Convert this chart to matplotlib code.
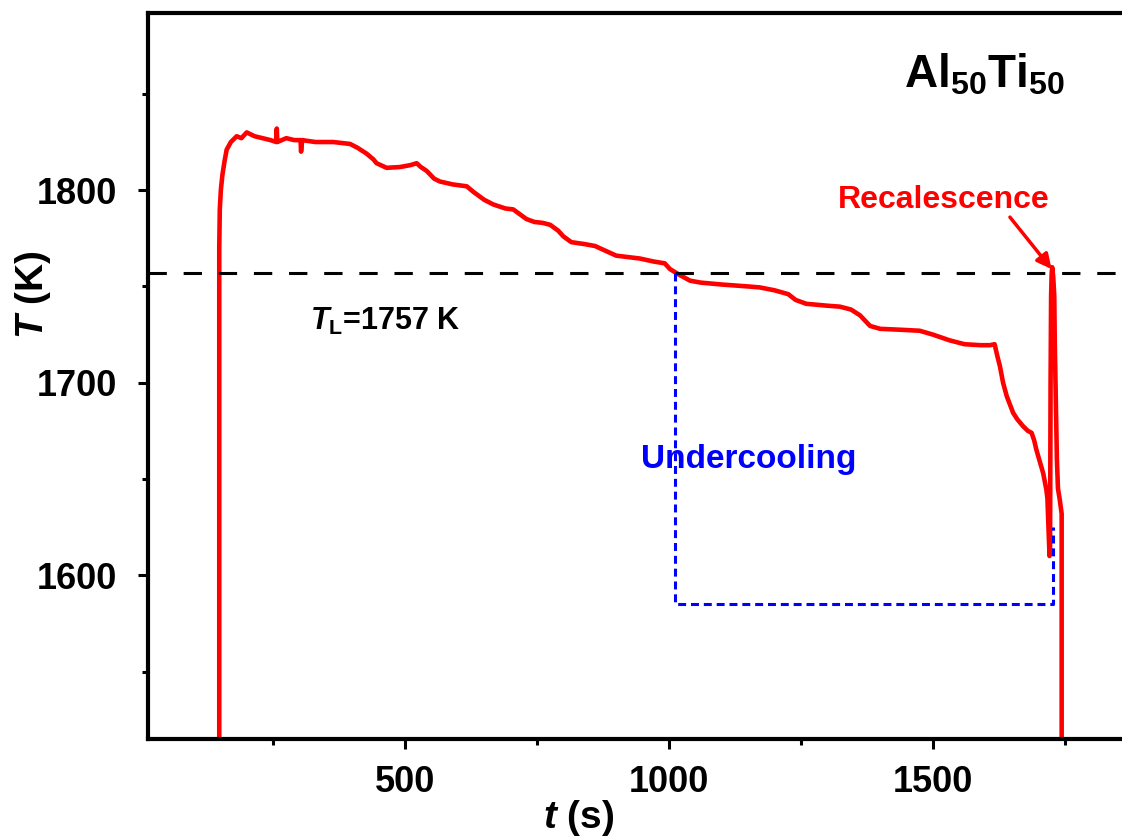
import matplotlib
matplotlib.use("Agg")
import matplotlib.pyplot as plt

plt.rcParams['font.family'] = ['Liberation Sans', 'DejaVu Sans']
plt.rcParams['font.weight'] = 'bold'
plt.rcParams['mathtext.fontset'] = 'custom'
plt.rcParams['mathtext.rm'] = 'Liberation Sans:bold'
plt.rcParams['mathtext.it'] = 'Liberation Sans:italic:bold'
plt.rcParams['mathtext.bf'] = 'Liberation Sans:bold'

# 温度曲线
t = [148, 148, 149, 151, 154, 158, 162, 170, 181, 190, 200, 215, 230, 245, 256, 257, 258,
     275, 290, 302, 303, 305, 330, 364, 396, 410, 427, 440, 446, 465, 490, 510, 522,
     530, 541, 555, 566, 590, 617, 630, 636, 650, 667, 690, 705, 720, 730, 745, 761,
     775, 790, 800, 815, 840, 860, 880, 900, 945, 970, 992, 1002, 1020, 1040, 1060,
     1100, 1150, 1172, 1200, 1226, 1240, 1260, 1300, 1324, 1345, 1362, 1381, 1400,
     1440, 1475, 1500, 1532, 1560, 1590, 1608, 1617, 1622, 1627, 1633, 1640, 1652,
     1660, 1671, 1680, 1687, 1692, 1696, 1709, 1715, 1717, 1719, 1721, 1722, 1723,
     1724, 1725, 1726, 1728, 1730, 1731, 1733, 1735, 1737, 1740, 1742, 1744, 1744]
T = [1500, 1770, 1790, 1800, 1808, 1815, 1821, 1825, 1828, 1827, 1830, 1828, 1827, 1826, 1825, 1832, 1825,
     1827, 1826, 1826, 1820, 1826, 1825, 1825, 1824, 1822, 1819, 1816, 1814, 1811.6, 1812, 1813, 1814,
     1812, 1810, 1806, 1804.5, 1803, 1802, 1799, 1797.8, 1795, 1792.6, 1790.5, 1790, 1787, 1785, 1783.5, 1783,
     1782, 1779, 1776, 1773, 1772, 1771, 1768.5, 1766, 1764.5, 1763, 1762, 1759, 1756, 1753, 1752,
     1751, 1750, 1749.5, 1748, 1746, 1743, 1741, 1740, 1739.5, 1738, 1735, 1729.5, 1728,
     1727.5, 1727, 1725, 1722, 1720, 1719.5, 1719.5, 1720, 1714, 1708.6, 1700, 1693, 1684.4,
     1681, 1677.4, 1675, 1674, 1670, 1665.3, 1653, 1644.5, 1640, 1625, 1610, 1612, 1700,
     1745, 1756, 1760, 1755, 1745, 1720, 1690, 1660, 1645, 1640, 1636, 1632, 1500]

T_L = 1757
# 过冷度框
uc_t = [1011, 1011, 1727, 1727]
uc_T = [1757, 1585, 1585, 1625]

fig = plt.figure(figsize=(11.22, 8.36), dpi=100)
ax = fig.add_axes([148 / 1122, 97 / 836, 996 / 1122, 726 / 836])

ax.plot(t, T, color='red', lw=3.3)
ax.axhline(T_L, color='black', lw=2.2, dashes=(6, 5.5))
ax.plot(uc_t, uc_T, color='blue', lw=2.2, dashes=(2.6, 1.6))

ax.set_xlim(13, 1900)
ax.set_ylim(1515, 1892)
ax.set_xticks([500, 1000, 1500])
ax.set_xticks([250, 750, 1250, 1750], minor=True)
ax.set_yticks([1600, 1700, 1800])
ax.set_yticks([1550, 1650, 1750, 1850], minor=True)

for s in ax.spines.values():
    s.set_linewidth(3)
ax.tick_params(which='major', direction='out', length=7, width=2.2, labelsize=26)
ax.tick_params(which='minor', direction='out', length=4, width=2.2)
ax.tick_params(axis='x', which='major', pad=12)
ax.tick_params(axis='y', which='major', pad=15)

# 坐标轴标题
fig.text(579 / 1122, 1 - 818 / 836, r'$t$ (s)', fontsize=28, fontweight='bold',
         ha='center', va='center')
fig.text(33 / 1122, 1 - 295 / 836, r'$T$ (K)', fontsize=28, fontweight='bold',
         ha='center', va='center', rotation=90)

ax.text(1598, 1860, r'$\mathrm{Al}_{50}\mathrm{Ti}_{50}$', fontsize=33, ha='center', va='center')
ax.text(462, 1732, r'$T_\mathrm{L}$=1757 K', fontsize=22, ha='center', va='center')
ax.text(1151, 1660, 'Undercooling', fontsize=24, color='blue', ha='center', va='center')
ax.text(1521, 1795, 'Recalescence', fontsize=23, color='red', ha='center', va='center')
ax.annotate('', xy=(1725, 1759), xytext=(1646, 1786),
            arrowprops=dict(arrowstyle='-|>', color='red', lw=2.5, mutation_scale=22,
                            shrinkA=0, shrinkB=0))

fig.savefig('out.png', dpi=100)
